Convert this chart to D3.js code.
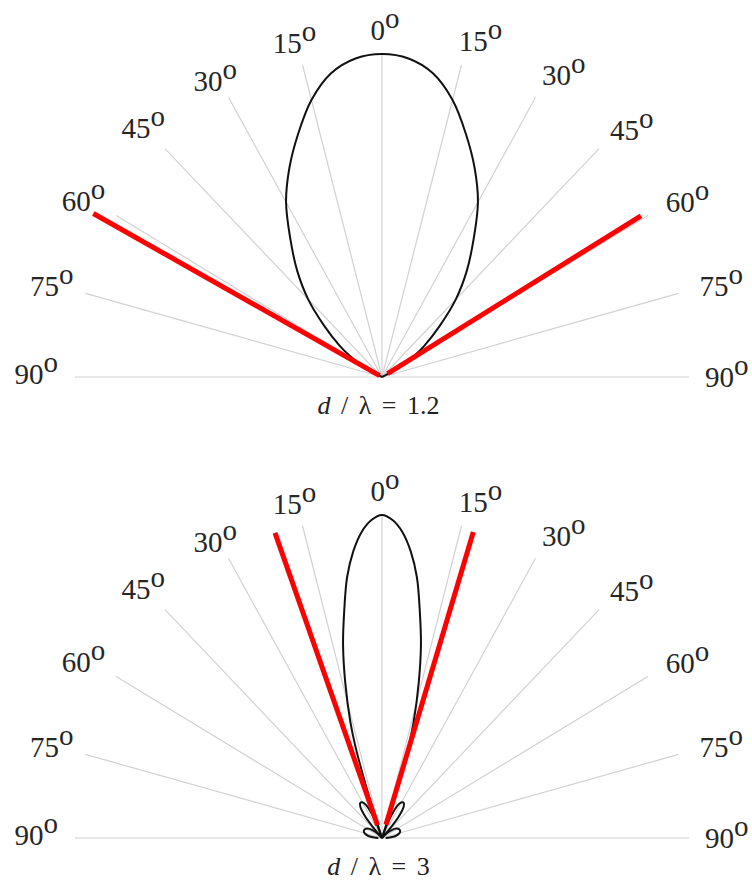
<!DOCTYPE html>
<html>
<head>
<meta charset="utf-8">
<script src="https://cdn.jsdelivr.net/npm/d3@7"></script>
<style>
  html, body { margin: 0; padding: 0; background: #fff; }
  svg { display: block; }
  .serif { font-family: "Liberation Serif", "Times New Roman", Times, "DejaVu Serif", serif; }
</style>
</head>
<body>
<svg id="chart" width="752" height="881"></svg>
<script>
// Radial grid directions (degrees from broadside) and their tick labels
const gridAngles = [-90, -75, -60, -45, -30, -15, 0, 15, 30, 45, 60, 75, 90];
const tickLabels = ["90", "75", "60", "45", "30", "15", "0", "15", "30", "45", "60", "75", "90"];

// d/λ for each panel
const ratios = ["1.2", "3"];

// Pattern for d/λ = 1.2 (normalised amplitude vs angle)
const anglesA = [-65, -64, -62, -60, -58, -55, -50, -45, -40, -35, -30, -25, -20, -15, -10, -5, 0,
                 5, 10, 15, 20, 25, 30, 35, 40, 45, 50, 55, 58, 60, 62, 64, 65];
const radiiA  = [0, 0.015, 0.05, 0.09, 0.125, 0.168, 0.244, 0.34, 0.43, 0.52, 0.625, 0.714, 0.80, 0.888, 0.955, 0.99, 1.0,
                 0.99, 0.955, 0.888, 0.80, 0.714, 0.625, 0.52, 0.43, 0.34, 0.244, 0.168, 0.125, 0.09, 0.05, 0.015, 0];

// Pattern for d/λ = 3 (main lobe plus two pairs of side lobes)
const anglesB = [-90, -87, -82, -76, -70, -64, -58, -52, -47, -43,
                 -41, -39, -36, -33, -30, -27, -24, -21, -19,
                 -18.5, -18, -17, -16, -14, -12, -10, -8, -6, -4, -2, 0,
                 2, 4, 6, 8, 10, 12, 14, 16, 17, 18, 18.5,
                 19, 21, 24, 27, 30, 33, 36, 39, 41,
                 43, 47, 52, 58, 64, 70, 76, 82, 87, 90];
const radiiB  = [0.012, 0.025, 0.045, 0.058, 0.063, 0.062, 0.055, 0.04, 0.02, 0,
                 0.05, 0.09, 0.12, 0.13, 0.128, 0.115, 0.08, 0.03, 0,
                 0.08, 0.16, 0.295, 0.374, 0.494, 0.61, 0.71, 0.816, 0.893, 0.95, 0.985, 1.0,
                 0.985, 0.95, 0.893, 0.816, 0.71, 0.61, 0.494, 0.374, 0.295, 0.16, 0.08,
                 0, 0.03, 0.08, 0.115, 0.128, 0.13, 0.12, 0.09, 0.05,
                 0, 0.02, 0.04, 0.055, 0.062, 0.063, 0.058, 0.045, 0.025, 0.012];

// Grating-lobe marker lines: direction, inner and outer radius
const markerAnglesA = [-61.7, 59.4];
const markerInnerA  = [0.009, 0.021];
const markerOuterA  = [1.068, 0.98];
const markerAnglesB = [-20.25, 17.43];
const markerInnerB  = [0.042, 0.043];
const markerOuterB  = [1.007, 0.993];

// ---- layout ----
const W = 752, H = 881;
const cx = 382;
const RX = 307, RY = 323;
const labelR = 1.1;
// small per-label offsets [dx, dy] in px
const labelNudge = {
  "-90": [-8, -5], "-75": [-4, -1], "-60": [-6, 0], "-45": [0, 0], "-30": [2, 10], "-15": [0, 7],
  "0": [3, 6], "15": [11, 5], "30": [13, 4], "45": [11, 2], "60": [13, 1], "75": [13, -1], "90": [7, -2]
};

const panels = [
  { cy: 377, ratio: ratios[0], angles: anglesA, radii: radiiA,
    mAngles: markerAnglesA, mInner: markerInnerA, mOuter: markerOuterA },
  { cy: 838, ratio: ratios[1], angles: anglesB, radii: radiiB,
    mAngles: markerAnglesB, mInner: markerInnerB, mOuter: markerOuterB }
];

const svg = d3.select("#chart");
svg.append("rect").attr("width", W).attr("height", H).attr("fill", "#fff");

const rad = d => d * Math.PI / 180;
const x = d3.scaleLinear().domain([-1, 1]).range([cx - RX, cx + RX]);

panels.forEach(p => {
  const y = d3.scaleLinear().domain([0, 1]).range([p.cy, p.cy - RY]);
  const px = (a, r) => x(r * Math.sin(rad(a)));
  const py = (a, r) => y(r * Math.cos(rad(a)));
  const g = svg.append("g");

  // radial grid
  g.append("g").selectAll("line").data(gridAngles).join("line")
    .attr("x1", x(0)).attr("y1", y(0))
    .attr("x2", a => px(a, 1)).attr("y2", a => py(a, 1))
    .attr("stroke", "#d2d2d2").attr("stroke-width", 1.2);

  // degree labels
  const lab = g.append("g").selectAll("text").data(gridAngles).join("text")
    .attr("class", "serif")
    .attr("x", a => px(a, labelR) + labelNudge[String(a)][0])
    .attr("y", a => py(a, labelR) + 12 + labelNudge[String(a)][1])
    .attr("text-anchor", "middle")
    .attr("font-size", 29)
    .attr("fill", "#262626");
  lab.append("tspan").text((a, i) => tickLabels[i]);
  lab.append("tspan").attr("dy", "-0.42em").text("o");

  // pattern, drawn lobe by lobe (split at the nulls)
  const pts = p.angles.map((a, i) => [a, p.radii[i]]);
  const lobes = [];
  let cur = [];
  pts.forEach(d => {
    cur.push(d);
    if (d[1] === 0 && cur.length > 1) { lobes.push(cur); cur = [d]; }
  });
  if (cur.length > 1) lobes.push(cur);

  const line = d3.line()
    .x(d => px(d[0], d[1]))
    .y(d => py(d[0], d[1]))
    .curve(d3.curveCatmullRom.alpha(0.5));

  g.append("g").selectAll("path").data(lobes).join("path")
    .attr("d", line)
    .attr("fill", "none")
    .attr("stroke", "#111")
    .attr("stroke-width", 2);

  // grating-lobe markers
  g.append("g").selectAll("line").data(p.mAngles).join("line")
    .attr("x1", (a, i) => px(a, p.mInner[i])).attr("y1", (a, i) => py(a, p.mInner[i]))
    .attr("x2", (a, i) => px(a, p.mOuter[i])).attr("y2", (a, i) => py(a, p.mOuter[i]))
    .attr("stroke", "#ff0000").attr("stroke-width", 5);

  // panel caption
  const cap = g.append("text")
    .attr("class", "serif")
    .attr("x", cx - 3.5).attr("y", p.cy + 37)
    .attr("text-anchor", "middle")
    .attr("font-size", 26)
    .attr("fill", "#222")
    .style("white-space", "pre")
    .attr("word-spacing", 4);
  cap.append("tspan").attr("font-style", "italic").text("d");
  cap.append("tspan").text(" / λ = " + p.ratio);
});
</script>
</body>
</html>
